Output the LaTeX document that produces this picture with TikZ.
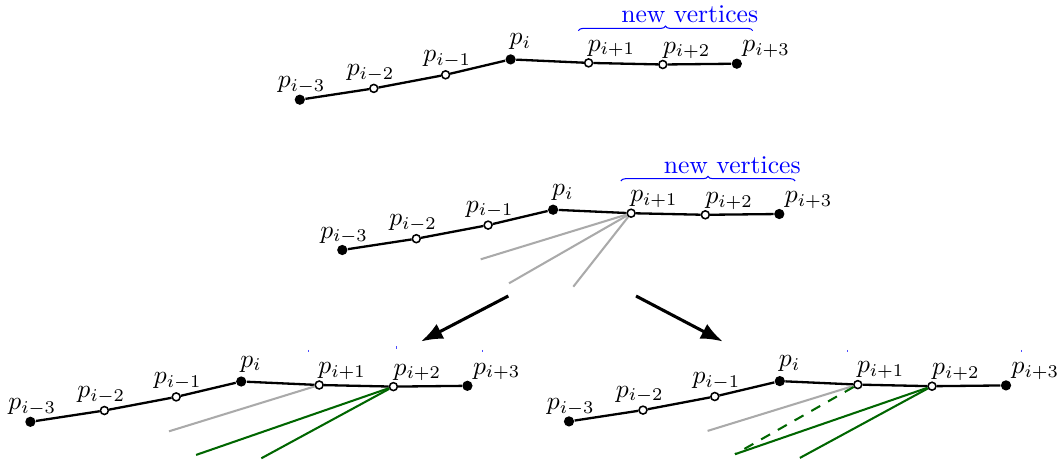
\documentclass[tikz,border=0pt]{standalone}
\usetikzlibrary{arrows.meta,decorations.pathreplacing}
\definecolor{ghostgray}{RGB}{170,170,170}
\definecolor{darkgreen}{RGB}{0,102,0}
\newcommand{\polychain}[3]{%
\begin{scope}[shift={(#2,#3)}]
\node[fdot] (#1m3) at (0,0) {};
\node[odot] (#1m2) at (74,-11.3) {};
\node[odot] (#1m1) at (145.8,-24.9) {};
\node[fdot] (#1z0) at (210.8,-40.3) {};
\node[odot] (#1q1) at (288.8,-36.8) {};
\node[odot] (#1q2) at (363,-35.2) {};
\node[fdot] (#1q3) at (437,-36) {};
\draw[polyedge] (#1m3) -- (#1m2) -- (#1m1) -- (#1z0) -- (#1q1) -- (#1q2) -- (#1q3);
\node[lab,anchor=base] (#1tm3) at (1.8,-12) {$p_{i-3}$};
\node[lab,anchor=base] (#1tm2) at (70.8,-24.3) {$p_{i-2}$};
\node[lab,anchor=base] (#1tm1) at (147.4,-37.9) {$p_{i-1}$};
\node[lab,anchor=base west] (#1tz0) at (209.4,-54.8) {$p_{i}$};
\node[lab,anchor=base west] (#1tq1) at (287.5,-48.6) {$p_{i+1}$};
\node[lab,anchor=base west] (#1tq2) at (362.7,-46.7) {$p_{i+2}$};
\node[lab,anchor=base west] (#1tq3) at (442.1,-47.8) {$p_{i+3}$};
\end{scope}}
\begin{document}
\begin{tikzpicture}[x=0.39pt,y=-0.39pt,
  polyedge/.style={line width=0.9pt,black},
  fdot/.style={circle,fill=black,inner sep=0pt,minimum size=4pt},
  odot/.style={circle,draw=black,fill=white,line width=0.6pt,inner sep=0pt,minimum size=3.1pt},
  lab/.style={inner sep=0pt},
  ghost/.style={ghostgray,line width=0.8pt},
  gline/.style={darkgreen,line width=0.8pt},
  gdashed/.style={darkgreen,line width=0.8pt,dash pattern=on 4pt off 3.5pt},
  bigarrow/.style={line width=1.2pt,-{Latex[length=8.5pt,width=6.5pt]}},
  bracestyle/.style={blue,line width=0.4pt,decorate,decoration={brace,amplitude=1.8pt}},
  bluetick/.style={blue!70,line width=0.3pt},
  bluetext/.style={blue,inner sep=0pt,anchor=base}]
\useasboundingbox (0,0) rectangle (1062,460);

% top panel
\polychain{T}{299.8}{99.7}
\coordinate (Tb1) at (578.3,30.7);
\coordinate (Tb2) at (752.7,30.7);
\draw[bracestyle] (Tb1) -- (Tb2);
\node[bluetext] (Tnew) at (689.7,22.7) {new vertices};

% middle panel
\polychain{M}{342.3}{250}
\coordinate (Mb1) at (620.8,181);
\coordinate (Mb2) at (795.2,181);
\draw[bracestyle] (Mb1) -- (Mb2);
\node[bluetext] (Mnew) at (732.2,173) {new vertices};
\coordinate (Mg1) at (480.7,259.3);
\coordinate (Mg2) at (509,283.3);
\coordinate (Mg3) at (573.3,286.7);
\draw[ghost] (Mq1) -- (Mg1);
\draw[ghost] (Mq1) -- (Mg2);
\draw[ghost] (Mq1) -- (Mg3);

% arrows
\coordinate (A1s) at (508.3,296);
\coordinate (A1e) at (421,341.5);
\coordinate (A2s) at (636,296);
\coordinate (A2e) at (722.7,341.5);
\draw[bigarrow] (A1s) -- (A1e);
\draw[bigarrow] (A2s) -- (A2e);

% bottom left panel
\polychain{L}{30.4}{421.8}
\coordinate (Lg1) at (169,431.3);
\coordinate (Lh1) at (196.1,454.9);
\coordinate (Lh2) at (261.3,458.3);
\draw[ghost] (Lq1) -- (Lg1);
\draw[gline] (Lq2) -- (Lh1);
\draw[gline] (Lq2) -- (Lh2);
\coordinate (Lk1a) at (308.3,349.8); \coordinate (Lk1b) at (308.3,352.2);
\coordinate (Lk2a) at (396,346.1); \coordinate (Lk2b) at (396,348.5);
\coordinate (Lk3a) at (482.7,349.8); \coordinate (Lk3b) at (482.7,352.2);
\draw[bluetick] (Lk1a) -- (Lk1b);
\draw[bluetick] (Lk2a) -- (Lk2b);
\draw[bluetick] (Lk3a) -- (Lk3b);

% bottom right panel
\polychain{R}{569}{421.4}
\coordinate (Rg1) at (707.6,430.9);
\coordinate (Rtip) at (735,454.2);
\coordinate (Rh2) at (799.9,457.9);
\draw[ghost] (Rq1) -- (Rg1);
\draw[gdashed] (Rq1) -- (Rtip);
\draw[gline] (Rq2) -- (Rtip);
\draw[gline] (Rq2) -- (Rh2);
\coordinate (Rk1a) at (847.3,349.8); \coordinate (Rk1b) at (847.3,352.2);
\coordinate (Rk3a) at (1021.7,349.8); \coordinate (Rk3b) at (1021.7,352.2);
\draw[bluetick] (Rk1a) -- (Rk1b);
\draw[bluetick] (Rk3a) -- (Rk3b);
\end{tikzpicture}
\end{document}
